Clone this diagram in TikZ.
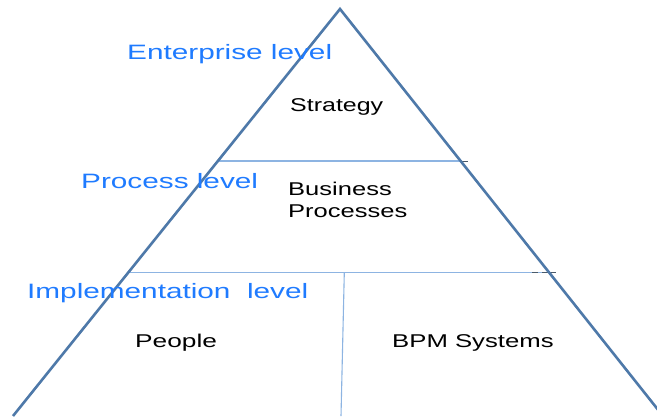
\documentclass[tikz,border=0pt]{standalone}
\usepackage{fontspec}
\setmainfont{Liberation Sans}
\usepackage{graphicx}
\definecolor{edgeblue}{HTML}{4E79A9}
\definecolor{thinblue}{HTML}{8DB4E2}
\definecolor{levelblue}{HTML}{1F7BFF}
\definecolor{tickgray}{HTML}{4A5A6A}
\tikzset{
  levelstyle/.style={anchor=base west, inner sep=0pt, text=levelblue},
  itemstyle/.style={anchor=base west, inner sep=0pt, text=black},
  edgestyle/.style={draw=edgeblue, line width=2.6bp, line join=miter},
  dividerstyle/.style={draw=thinblue, line width=1.1bp},
  tickstyle/.style={draw=tickgray, line width=1bp},
}
\newcommand{\lvltext}[2]{\fontsize{20.8bp}{24bp}\selectfont\scalebox{#1}[1]{#2}}
\newcommand{\itmtext}[2]{\fontsize{18.5bp}{22bp}\selectfont\scalebox{#1}[1]{#2}}
\begin{document}
\begin{tikzpicture}[x=1bp,y=-1bp]
\useasboundingbox (0,0) rectangle (657,416);
\fill[white] (0,0) rectangle (657,416);
\begin{scope}
\clip (0,0) rectangle (657,416);
% corners of the pyramid
\coordinate (apex) at (340,9);
\coordinate (bl) at (13,416);
\coordinate (br) at (663,416);
% divider end points
\coordinate (d1l) at (218,161);
\coordinate (d1r) at (462,161);
\coordinate (d2l) at (129,272.5);
\coordinate (d2r) at (550,272.5);
\coordinate (vtop) at (344.3,272.5);
\coordinate (vbot) at (341,416);
% tick marks
\coordinate (t1a) at (460,161);
\coordinate (t1b) at (468,161);
\coordinate (t2a) at (532,272);
\coordinate (t2b) at (538,272);
\coordinate (t2c) at (542,272);
\coordinate (t2d) at (556,272);
% dividers
\draw[dividerstyle] (d1l) -- (d1r);
\draw[dividerstyle] (d2l) -- (d2r);
\draw[dividerstyle] (vtop) -- (vbot);
\draw[tickstyle] (t1a) -- (t1b);
\draw[tickstyle] (t2a) -- (t2b);
\draw[tickstyle] (t2c) -- (t2d);
% pyramid outline
\draw[edgestyle] (bl) -- (apex) -- (br);
\end{scope}
% level labels
\node[levelstyle] (ent) at (127,59) {\lvltext{1.43}{Enterprise level}};
\node[levelstyle] (proc) at (81,188) {\lvltext{1.43}{Process level}};
\node[levelstyle] (impl) at (27,298) {\lvltext{1.43}{Implementation\ \ level}};
% contents
\node[itemstyle] (strat) at (290,111) {\itmtext{1.35}{Strategy}};
\node[itemstyle] (bproc) at (288,217) {\itmtext{1.38}{\begin{tabular}[b]{@{}l@{}}Business\\Processes\end{tabular}}};
\node[itemstyle] (people) at (135,347) {\itmtext{1.42}{People}};
\node[itemstyle] (bpm) at (392,347) {\itmtext{1.39}{BPM Systems}};
\end{tikzpicture}
\end{document}
